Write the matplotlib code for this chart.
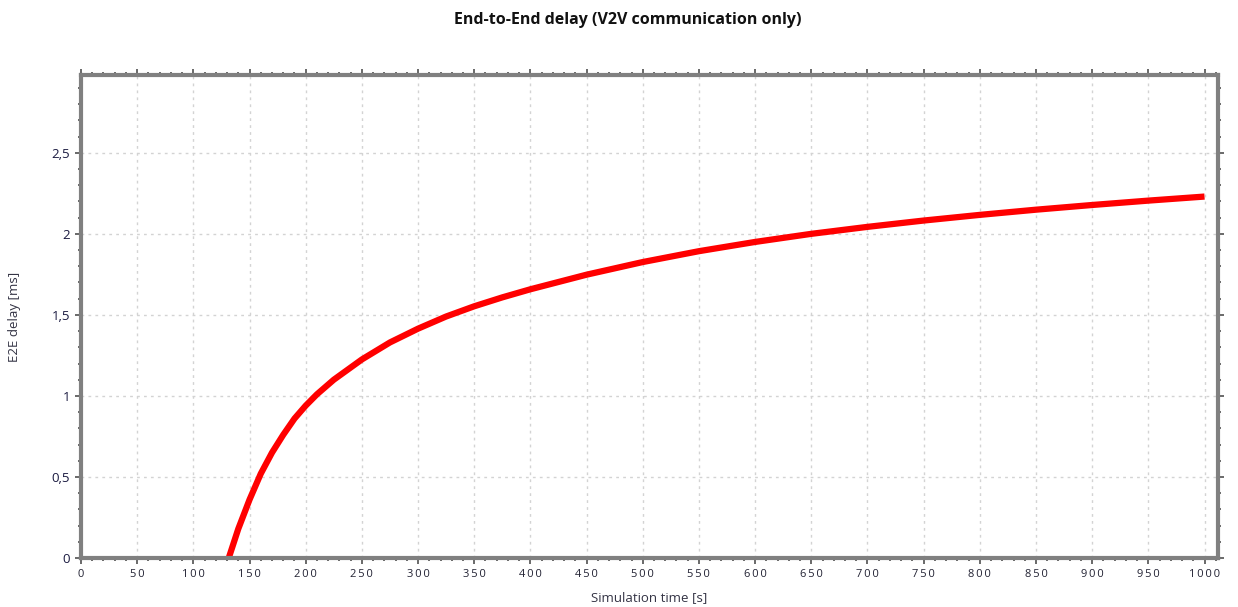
import matplotlib
matplotlib.use("Agg")
import matplotlib.pyplot as plt
from matplotlib.ticker import MultipleLocator, FuncFormatter

# Data
sim_time = [131.5, 140, 150, 160, 170, 180, 190, 200, 210, 225, 250, 275, 300, 325,
            350, 375, 400, 450, 500, 550, 600, 650, 700, 750, 800, 850, 900, 950, 1000]
e2e_delay = [0.0, 0.18, 0.36, 0.52, 0.65, 0.76, 0.86, 0.94, 1.01, 1.10, 1.225, 1.33,
             1.415, 1.49, 1.553, 1.608, 1.658, 1.748, 1.826, 1.893, 1.95, 2.0, 2.043,
             2.082, 2.117, 2.149, 2.178, 2.205, 2.23]

title = "End-to-End delay (V2V communication only)"
xlabel = "Simulation time [s]"
ylabel = "E2E delay [ms]"

plt.rcParams['font.family'] = ['Open Sans', 'DejaVu Sans']

fig = plt.figure(figsize=(12.38, 6.07), dpi=100)
ax = fig.add_axes([81/1238, 1-558/607, (1218-81)/1238, (558-75)/607])

ax.plot(sim_time, e2e_delay, color='#ff0000', lw=4.5, solid_capstyle='butt',
        solid_joinstyle='round')

ax.set_xlim(0, 1012)
ax.set_ylim(0, 2.98)

ax.xaxis.set_major_locator(MultipleLocator(50))
ax.xaxis.set_minor_locator(MultipleLocator(10))
ax.yaxis.set_major_locator(MultipleLocator(0.5))
ax.yaxis.set_minor_locator(MultipleLocator(0.1))

ax.xaxis.set_major_formatter(FuncFormatter(lambda v, p: "\u2009".join(f"{int(round(v))}")))
def yfmt(v, p):
    return f"{v:g}".replace('.', ',')
ax.yaxis.set_major_formatter(FuncFormatter(yfmt))

ax.grid(True, which='major', color='#d3d3d3', linestyle=(0, (2, 3)), linewidth=1)
ax.set_axisbelow(True)

for s in ax.spines.values():
    s.set_color('#808080')
    s.set_linewidth(3)

ax.tick_params(which='both', direction='out', top=True, right=True, color='#505050')
ax.tick_params(which='major', length=4, width=1.2, labelsize=8, labelcolor='#222233', pad=4)
ax.tick_params(which='minor', length=2.5, width=1.2)
ax.tick_params(axis='y', labelsize=9.5, labelcolor='#1a1a40')

ax.set_xlabel(xlabel, fontsize=9.5, color='#333344', labelpad=8)
ax.set_ylabel(ylabel, fontsize=9.5, color='#333344', labelpad=22)

fig.text(628/1238, 1-20/607, title, ha='center', va='center', fontsize=11.5,
         fontweight='bold', color='#111111')

fig.savefig("out.png", dpi=100, facecolor='white')
